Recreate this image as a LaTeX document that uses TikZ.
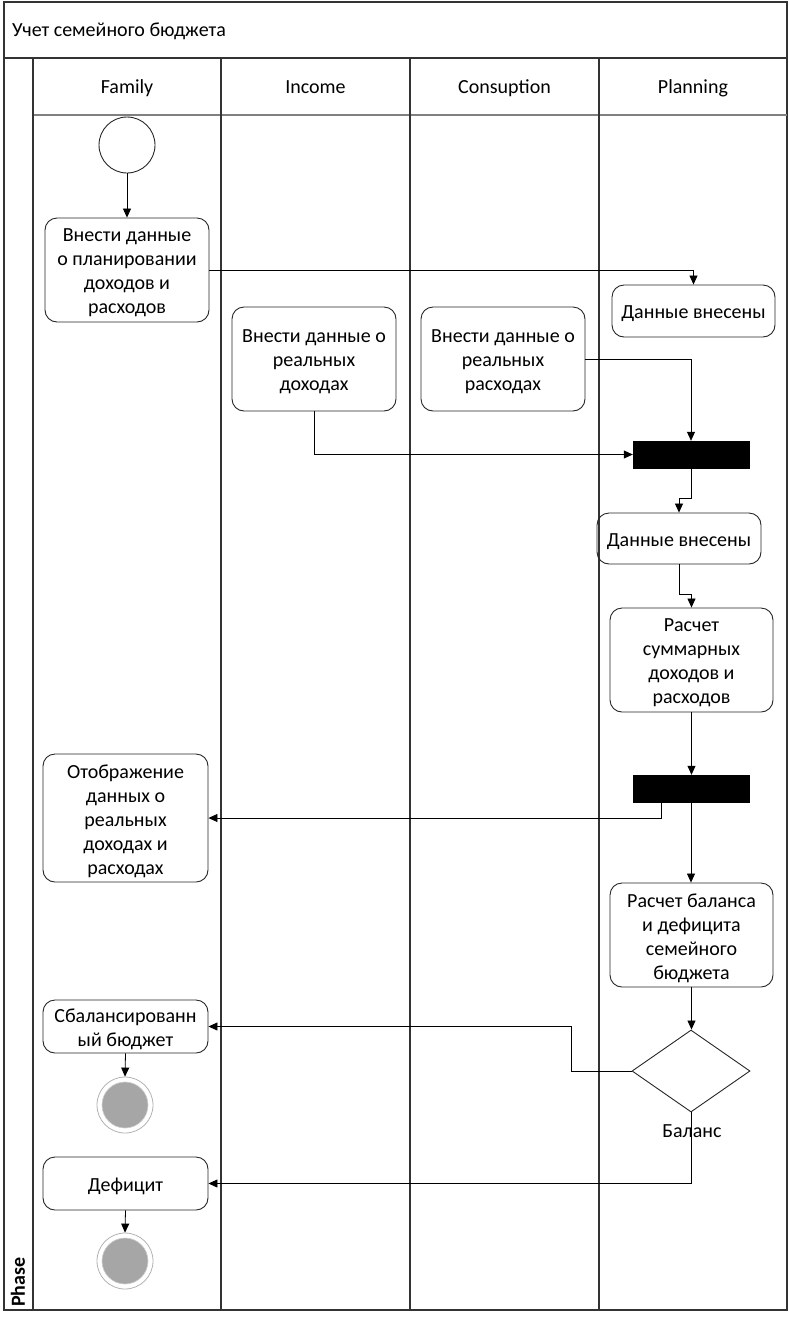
\documentclass[tikz,border=0pt]{standalone}
\usepackage{fontspec}
\setmainfont{Carlito}
\usetikzlibrary{arrows.meta,shapes.geometric,calc}
\begin{document}
\begin{tikzpicture}[x=1pt,y=-1pt,
  every node/.style={font=\fontsize{20}{24}\selectfont},
  frame/.style={draw=black!80,line width=1.3pt},
  act/.style={draw=black!85,line width=0.9pt,rounded corners=12pt,inner sep=0pt},
  acttxt/.style={align=center,inner sep=0pt,yshift=-3pt},
  bar/.style={fill=black,draw=black,minimum width=116pt,minimum height=27pt,inner sep=0pt},
  flow/.style={draw=black,line width=0.8pt,-{Triangle[length=9pt,width=8pt]}},
  startnode/.style={circle,draw=black!85,line width=0.9pt,minimum size=56pt,inner sep=0pt},
  endouter/.style={circle,draw=black!30,line width=0.8pt,minimum size=56pt,inner sep=0pt},
  endinner/.style={circle,fill=black!35,draw=black!20,line width=0.6pt,minimum size=46pt,inner sep=0pt},
  lanehead/.style={anchor=center,text height=14pt,text depth=4pt,inner sep=0pt,yshift=-1pt}
]
\useasboundingbox (0,0) rectangle (789,1318);
% frame
\draw[frame] (4,2) rectangle (787,1310);
\draw[frame] (4,58) -- (787,58);
\draw[draw=black!50,line width=1.3pt] (33,115) -- (787,115);
\foreach \x in {33,221,410,599} \draw[frame] (\x,58) -- (\x,1310);
\node[anchor=west,text height=14pt,text depth=4pt,inner sep=0pt] (title) at (12,31) {Учет семейного бюджета};
\node[lanehead] (hFamily) at (127,87) {Family};
\node[lanehead] (hIncome) at (315.5,87) {Income};
\node[lanehead] (hCons) at (504.5,87) {Consuption};
\node[lanehead] (hPlan) at (693,87) {Planning};
\node[rotate=90,font=\fontsize{20}{24}\selectfont\bfseries] (phase) at (18,1282) {Phase};

% nodes
\node[startnode] (start) at (127,145) {};
\node[act,minimum width=164pt,minimum height=104pt,label={[acttxt]center:{Внести данные\\о планировании\\доходов и\\расходов}}] (box1) at (127,270) {};
\node[act,minimum width=163pt,minimum height=52pt,label={[acttxt]center:{Данные внесены}}] (P1) at (693.5,311) {};
\node[act,minimum width=164pt,minimum height=104pt,label={[acttxt]center:{Внести данные о\\реальных\\доходах}}] (I1) at (314,359) {};
\node[act,minimum width=164pt,minimum height=104pt,label={[acttxt]center:{Внести данные о\\реальных\\расходах}}] (C1) at (503,359) {};
\node[bar] (bar1) at (691,454.5) {};
\node[act,minimum width=164pt,minimum height=51pt,label={[acttxt]center:{Данные внесены}}] (P2) at (679,538.5) {};
\node[act,minimum width=163pt,minimum height=104pt,label={[acttxt]center:{Расчет\\суммарных\\доходов и\\расходов}}] (P3) at (691.5,660) {};
\node[bar] (bar2) at (691,788.5) {};
\node[act,minimum width=165pt,minimum height=128pt,label={[acttxt]center:{Отображение\\данных о\\реальных\\доходах и\\расходах}}] (F2) at (125.5,818) {};
\node[act,minimum width=163pt,minimum height=104pt,label={[acttxt]center:{Расчет баланса\\и дефицита\\семейного\\бюджета}}] (P4) at (691.5,935) {};
\node[diamond,draw=black!85,line width=0.9pt,minimum width=118pt,minimum height=82pt,inner sep=0pt,aspect=1.44] (dia) at (691,1071) {};
\node (bal) at (692,1131) {Баланс};
\node[act,minimum width=165pt,minimum height=53pt,label={[acttxt]center:{Сбалансированн\\ый бюджет}}] (F3) at (125.5,1026.5) {};
\node[endouter] (end1) at (125,1105) {};
\node[endinner] (end1i) at (125,1105) {};
\node[act,minimum width=165pt,minimum height=53pt,label={[acttxt]center:{Дефицит}}] (F4) at (125.5,1183.5) {};
\node[endouter] (end2) at (125,1261) {};
\node[endinner] (end2i) at (125,1261) {};

% connectors
\draw[flow] (start.south) -- (box1.north);
\draw[flow] (box1.east) -| (P1.north);
\draw[flow] (C1.east) -| (bar1.north);
\draw[flow] (I1.south) |- (bar1.west);
\draw[flow] (bar1.south) -- (bar1.south |- 0,498) -| (P2.north);
\draw[flow] (P2.south) -- (P2.south |- 0,594) -| (P3.north);
\draw[flow] (P3.south) -- (P3.south |- bar2.north);
\draw[flow] ([xshift=29pt]bar2.south west) |- (F2.east);
\draw[flow] (bar2.south) -- (bar2.south |- P4.north);
\draw[flow] (P4.south) -- (P4.south |- dia.north);
\draw[flow] (dia.west) -- ++(-60,0) |- (F3.east);
\draw[flow] (dia.south) |- (F4.east);
\draw[flow] (F3.south) -- (end1.north);
\draw[flow] (F4.south) -- (end2.north);
\end{tikzpicture}
\end{document}
